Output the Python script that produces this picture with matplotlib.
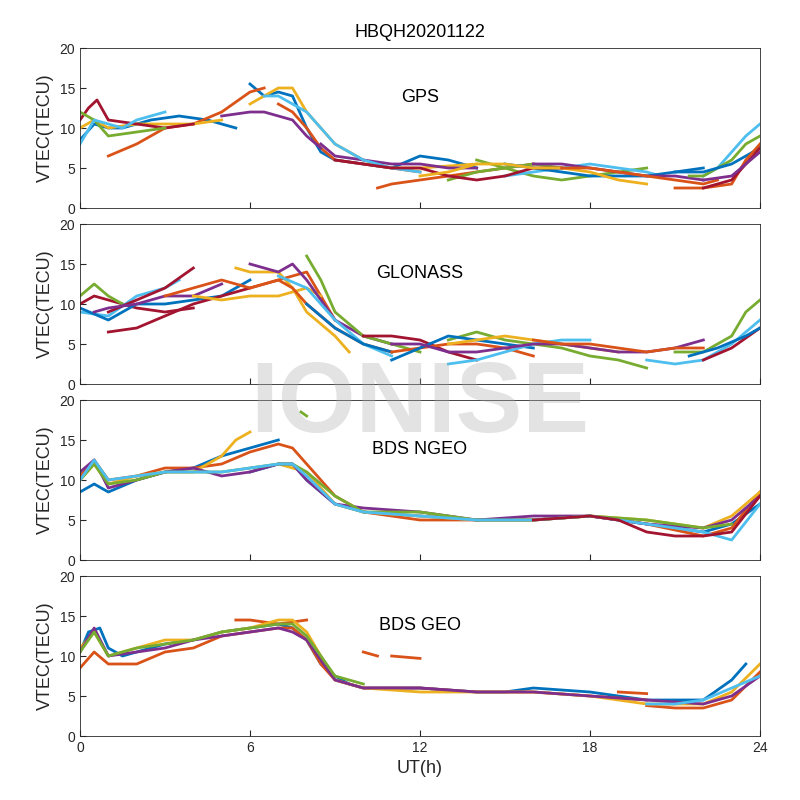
import matplotlib
matplotlib.use("Agg")
import matplotlib.pyplot as plt

plt.rcParams["font.family"] = ["Liberation Sans", "DejaVu Sans"]

COLORS = ["#0072BD", "#D95319", "#EDB120", "#7E2F8E", "#77AC30", "#4DBEEE", "#A2142F"]
TITLE = "HBQH20201122"
PANEL_NAMES = ["GPS", "GLONASS", "BDS NGEO", "BDS GEO"]

# each track: (colour index, UT hours, VTEC)
gps_tracks = [
    (0, [0, 0.5, 1, 1.5, 2.5, 3.5, 4.5, 5.5], [8.5, 10.5, 10, 10, 11, 11.5, 11, 10]),
    (0, [6, 6.5, 7, 7.5, 8, 8.5, 9, 10, 11, 12, 13, 14], [15.5, 14, 14.5, 14, 10, 7, 6, 5.5, 5, 6.5, 6, 5]),
    (1, [1, 2, 3, 4, 5, 6, 6.5], [6.5, 8, 10, 10.5, 12, 14.5, 15]),
    (1, [7, 7.5, 8, 8.5, 9, 10, 11, 12], [13, 12, 10, 7.5, 6, 5.5, 5, 4.5]),
    (1, [10.5, 11, 12, 13, 14, 15, 16], [2.5, 3, 3.5, 4, 4.5, 5, 5.5]),
    (2, [0, 0.5, 1, 2, 3, 4, 5], [10, 11, 10, 10.5, 10.5, 10.5, 11]),
    (2, [6, 7, 7.5, 8, 9, 10, 11, 12, 14], [13, 15, 15, 12, 8, 6, 5, 5, 5.5]),
    (3, [5, 6, 6.5, 7, 7.5, 8, 8.5], [11.5, 12, 12, 11.5, 11, 9, 7.5]),
    (3, [8.5, 9, 10, 11, 12, 13, 14], [8, 6.5, 6, 5.5, 5.5, 5, 5]),
    (6, [0, 0.3, 0.6, 1, 2, 3, 4], [11, 12.5, 13.5, 11, 10.5, 10, 10.5]),
    (4, [0, 0.5, 1, 2, 3], [12, 11, 9, 9.5, 10]),
    (5, [0, 0.5, 1, 1.5, 2, 3], [8, 11, 10.5, 10, 11, 12]),
    (5, [6.5, 7, 7.5, 8, 9, 10, 11, 12], [14, 14, 13, 12, 8, 6, 5, 4.5]),
    (4, [13, 14, 15, 16, 17], [3.5, 4.5, 5, 5.5, 5]),
    (4, [14, 15, 16, 17, 18, 19, 20], [6, 5, 4, 3.5, 4, 4.5, 5]),
    (5, [15, 16, 17, 18, 19, 20, 20.5], [4, 4.5, 5, 5.5, 5, 4.5, 4]),
    (0, [15, 16, 17, 18, 19, 20, 21, 22], [5.5, 5, 4.5, 4, 4, 4, 4.5, 5]),
    (6, [9, 10, 11, 12, 13, 14, 15, 16, 17], [6, 5.5, 5, 5, 4, 3.5, 4, 5, 5]),
    (2, [12, 13, 14, 15, 16, 17, 18, 19, 20], [4, 4.5, 5.5, 5.5, 5, 5, 4.5, 3.5, 3]),
    (3, [16, 17, 18, 19, 20, 21, 22], [5.5, 5.5, 5, 4.5, 4, 4, 3.5]),
    (1, [17, 18, 19, 20, 21, 22, 22.5], [5, 5, 4.5, 4, 3.5, 3, 3.5]),
    (5, [22, 22.5, 23, 23.5, 24], [4, 5, 7, 9, 10.5]),
    (4, [21.5, 22, 23, 23.5, 24], [4, 4, 6, 8, 9]),
    (0, [21, 22, 23, 24], [4.5, 4.5, 5.5, 7.5]),
    (1, [21, 22, 23, 23.5, 24], [2.5, 2.5, 3, 6, 8]),
    (6, [22, 23, 24], [2.5, 3.5, 7.5]),
    (3, [22, 23, 24], [3.5, 4, 7]),
]

glonass_tracks = [
    (6, [0, 0.5, 1, 2, 3, 4], [10, 11, 10.5, 9.5, 9, 9.5]),
    (4, [0, 0.5, 1, 1.5], [11, 12.5, 11, 10]),
    (5, [0, 1, 2, 3, 3.5], [9, 8.5, 11, 12, 13]),
    (0, [0, 1, 2, 3, 4, 5, 6], [9.5, 8, 10, 10, 10.5, 11, 13]),
    (6, [1, 2, 3, 4, 5, 6], [6.5, 7, 8.5, 10, 11, 12]),
    (6, [1, 2, 3, 4], [9, 10.5, 12, 14.5]),
    (3, [0.5, 1, 2, 3, 4, 5], [9, 9.5, 10, 11, 11, 12.5]),
    (1, [3, 4, 5, 6, 7, 8, 8.5, 9], [11, 12, 13, 12, 13, 14, 11, 8]),
    (2, [4, 5, 6, 7, 8, 8.5], [11, 10.5, 11, 11, 12, 11]),
    (2, [5.5, 6, 7, 7.5, 8, 9, 9.5], [14.5, 14, 14, 12, 9, 6, 4]),
    (3, [6, 7, 7.5, 8, 9, 10, 11], [15, 14, 15, 13, 8, 6, 5]),
    (1, [6, 7, 7.5, 8, 9, 10, 11], [12, 13, 12, 10, 7, 5, 4]),
    (4, [8, 8.5, 9, 10, 11, 12], [16, 13, 9, 6, 5, 4]),
    (5, [7, 8, 9, 10, 11], [13.5, 12, 8, 5, 3.5]),
    (0, [8, 9, 10, 11], [10, 7, 5, 4]),
    (6, [10, 11, 12, 13, 14], [6, 6, 5.5, 4, 3]),
    (1, [11, 12, 13, 14, 15, 16], [4, 4.5, 5, 5, 4.5, 3.5]),
    (4, [13, 14, 15, 16, 17, 18, 19, 20], [5.5, 6.5, 5.5, 5, 4.5, 3.5, 3, 2]),
    (0, [11, 12, 13, 14, 15, 16], [3, 4.5, 6, 5.5, 5, 4.5]),
    (5, [13, 14, 15, 16, 17, 18], [2.5, 3, 4, 5, 5.5, 5.5]),
    (2, [13, 14, 15, 16, 17, 18, 19], [5, 5.5, 6, 5.5, 5, 4.5, 4]),
    (3, [11, 12, 13, 14, 15, 16, 17, 18, 19, 20, 21, 22], [5, 5, 4, 4, 4.5, 5, 5, 4.5, 4, 4, 4.5, 5.5]),
    (1, [16, 17, 18, 19, 20, 21, 22], [5.5, 5, 5, 4.5, 4, 4.5, 4.5]),
    (5, [20, 21, 22, 23, 24], [3, 2.5, 3, 5, 8]),
    (4, [21, 22, 23, 23.5, 24], [4, 4, 6, 9, 10.5]),
    (6, [22, 23, 24], [3, 4.5, 7]),
    (0, [21.5, 22.5, 23.5, 24], [3.5, 4.5, 6, 7]),
]

ngeo_tracks = [
    (0, [0, 0.5, 1, 2, 3, 4, 5, 6, 7], [8.5, 9.5, 8.5, 10, 11, 11.5, 13, 14, 15]),
    (0, [6, 7, 7.5, 8, 9, 10, 12, 14, 16, 18, 20, 22, 23, 24], [11, 12, 12, 10, 7, 6, 5.5, 5, 5, 5.5, 4.5, 3.5, 4.5, 7]),
    (1, [0, 0.5, 1, 2, 3, 4, 5, 6, 7, 7.5, 8, 9, 10, 12, 14, 16, 18, 19, 20, 22, 23, 24],
     [10.5, 12.5, 10, 10.5, 11.5, 11.5, 12, 13.5, 14.5, 14, 12, 8, 6, 5, 5, 5, 5.5, 5, 4.5, 3, 4, 8.5]),
    (2, [0, 0.5, 1, 2, 3, 4, 5, 5.5, 6], [10, 12, 9.5, 10.5, 11, 11, 13, 15, 16]),
    (2, [7, 8, 9, 10, 12, 14, 16, 18, 20, 22, 23, 24], [12, 11, 7, 6, 5.5, 5, 5, 5.5, 5, 4, 5.5, 8.5]),
    (3, [0, 0.5, 1, 2, 3, 4, 5, 6, 7, 7.5, 8, 9, 10, 12, 14, 16, 18, 20, 22, 23, 24],
     [11, 12.5, 9, 10, 11, 11.5, 10.5, 11, 12, 12, 10, 7, 6.5, 6, 5, 5.5, 5.5, 4.5, 4, 5, 8]),
    (4, [0, 0.5, 1, 2, 3, 4, 5, 6, 7, 7.5, 8, 9, 10, 12, 14, 16, 18, 20, 22, 23],
     [10, 12, 9.5, 10, 11, 11, 11, 11.5, 12, 12, 11, 8, 6, 6, 5, 5, 5.5, 5, 4, 4.5]),
    (4, [7.8, 8], [18.5, 18]),
    (5, [0, 0.5, 1, 2, 3, 4, 5, 6, 7, 7.5, 8, 9, 10, 12, 14, 16, 18, 20, 22, 23, 24],
     [10, 12.5, 10, 10.5, 11, 11, 11, 11.5, 12, 12, 10.5, 7, 6, 5.5, 5, 5, 5.5, 4.5, 3.5, 2.5, 7]),
    (6, [16, 18, 19, 20, 21, 22, 23, 24], [5, 5.5, 5, 3.5, 3, 3, 3.5, 8]),
]

geo_tracks = [
    (0, [0, 0.3, 0.7, 1, 1.5, 2, 3, 4, 5, 6, 7, 7.5, 8, 8.5, 9, 9.5, 10, 12, 14, 15, 16, 18, 20, 22, 23, 23.5],
     [10.5, 13, 13.5, 11, 10, 10.5, 11.5, 12, 13, 13.5, 14, 13.5, 12, 9, 7.5, 6.5, 6, 6, 5.5, 5.5, 6, 5.5, 4.5, 4.5, 7, 9]),
    (1, [0, 0.5, 1, 2, 3, 4, 5, 6, 7, 7.5, 8, 8.5, 9, 10, 12, 14, 16, 18, 20],
     [8.5, 10.5, 9, 9, 10.5, 11, 12.5, 13, 13.5, 13.5, 12, 9, 7, 6, 6, 5.5, 5.5, 5, 4.5]),
    (1, [5.5, 6, 7, 8], [14.5, 14.5, 14, 14.5]),
    (1, [10, 10.5], [10.5, 10]),
    (1, [11, 12], [10, 9.7]),
    (1, [19, 20], [5.5, 5.3]),
    (1, [20, 21, 22, 23, 24], [3.8, 3.5, 3.5, 4.5, 8]),
    (2, [0, 0.5, 1, 2, 3, 4, 5, 6, 7, 7.5, 8, 8.5, 9, 10, 12, 14, 16, 18, 20, 22, 23, 24],
     [11, 13, 10, 11, 12, 12, 13, 13.5, 14.5, 14.5, 13, 10, 7, 6, 5.5, 5.5, 5.5, 5, 4, 4, 5.5, 9]),
    (3, [0, 0.5, 1, 2, 3, 4, 5, 6, 7, 7.5, 8, 8.5, 9, 10, 12, 14, 16, 18, 20, 22, 23, 24],
     [10.5, 13.5, 10, 10.5, 11, 12, 12.5, 13, 13.5, 13, 12, 9.5, 7, 6, 6, 5.5, 5.5, 5, 4.5, 4, 5, 7.5]),
    (4, [0, 0.5, 1, 2, 3, 4, 5, 6, 7, 7.5, 8, 9, 10], [10.5, 13, 10, 11, 11.5, 12, 13, 13.5, 14, 14, 12.5, 7.5, 6.5]),
    (5, [20, 21, 22, 23, 24], [4, 4, 4.5, 6, 7.5]),
]

all_tracks = [gps_tracks, glonass_tracks, ngeo_tracks, geo_tracks]

fig = plt.figure(figsize=(8, 8), dpi=100)
bottoms = [0.74, 0.52, 0.30, 0.08]
for i, (bottom, tracks, name) in enumerate(zip(bottoms, all_tracks, PANEL_NAMES)):
    ax = fig.add_axes([0.1, bottom, 0.85, 0.2])
    for ci, t, v in tracks:
        ax.plot(t, v, color=COLORS[ci], lw=2)
    ax.set_xlim(0, 24)
    ax.set_ylim(0, 20)
    ax.set_xticks([0, 6, 12, 18, 24])
    ax.set_yticks([0, 5, 10, 15, 20])
    ax.tick_params(direction="in", labelsize=10, colors="#262626", length=4)
    for s in ax.spines.values():
        s.set_color("#262626")
        s.set_linewidth(0.6)
    if i < 3:
        ax.set_xticklabels([])
    else:
        ax.set_xlabel("UT(h)", fontsize=13, color="#262626")
    ax.set_ylabel("VTEC(TECU)", fontsize=13, color="#262626")
    ax.text(12, 13.8, name, ha="center", va="center", fontsize=13)
    if i == 0:
        ax.set_title(TITLE, fontsize=13, pad=8)

fig.text(0.525, 0.493, "IONISE", ha="center", va="center", fontsize=72,
         fontweight="bold", color="#b0b0b0", alpha=0.35, zorder=10)

fig.savefig("out.png", dpi=100)
